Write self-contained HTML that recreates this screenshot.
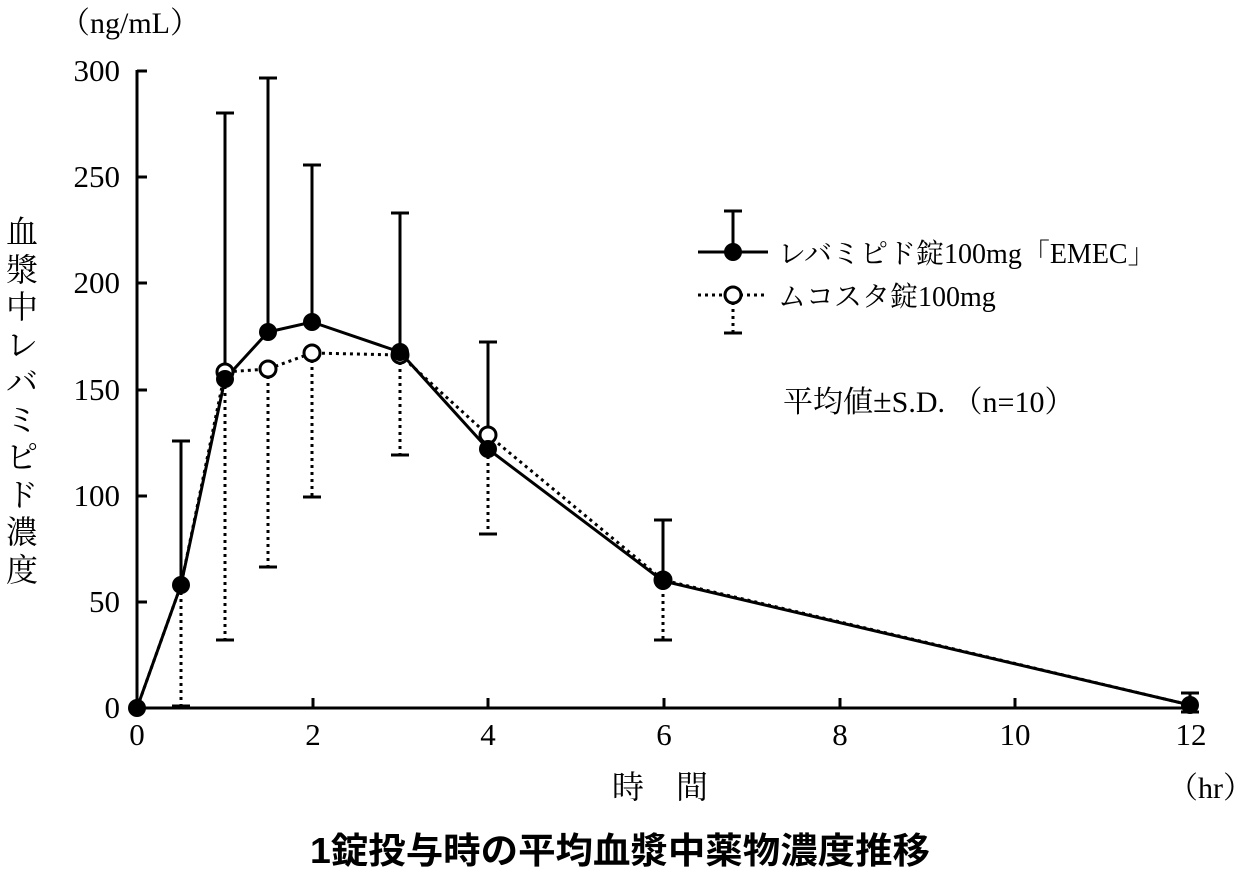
<!DOCTYPE html><html><head><meta charset="utf-8"><style>body{margin:0;background:#fff}svg{display:block}text{font-family:"Liberation Serif","Noto Serif CJK SC",serif;fill:#000}</style></head><body>
<svg width="1238" height="873" viewBox="0 0 1238 873">
<g stroke="#000" stroke-width="3" fill="none">
<path d="M137 70V708H1191"/>
<path d="M137 71h10M137 177h10M137 283h10M137 390h10M137 496h10M137 602h10"/>
<path d="M313 708v-10M488 708v-10M664 708v-10M840 708v-10M1015 708v-10M1191 708v-10"/>
</g>
<g font-size="31" text-anchor="end">
<text x="120" y="81">300</text><text x="120" y="187">250</text><text x="120" y="293">200</text><text x="120" y="400">150</text><text x="120" y="506">100</text><text x="120" y="612">50</text><text x="120" y="718">0</text>
</g>
<g font-size="31" text-anchor="middle">
<text x="137" y="745">0</text><text x="313" y="745">2</text><text x="488" y="745">4</text><text x="664" y="745">6</text><text x="840" y="745">8</text><text x="1015" y="745">10</text><text x="1191" y="745">12</text>
</g>
<text x="60" y="33" font-size="30">（ng/mL）</text>
<text x="1168" y="798" font-size="30">（hr）</text>
<text x="612" y="798" font-size="32">時　間</text>
<g font-size="32" text-anchor="middle"><text x="22" y="243">血</text><text x="22" y="281">漿</text><text x="22" y="318">中</text><text x="22" y="356">レ</text><text x="22" y="393">バ</text><text x="22" y="431">ミ</text><text x="22" y="468">ピ</text><text x="22" y="506">ド</text><text x="22" y="543">濃</text><text x="22" y="581">度</text></g>
<text x="620" y="863" font-size="36" font-weight="bold" text-anchor="middle" textLength="620" lengthAdjust="spacingAndGlyphs" style="font-family:'Liberation Sans','Noto Sans CJK JP',sans-serif">1錠投与時の平均血漿中薬物濃度推移</text>
<text x="783" y="412" font-size="30">平均値<tspan font-size="34">±</tspan>S.D. （n=10）</text>
<g stroke="#000" stroke-width="3" stroke-dasharray="3 4" fill="none">
<path d="M181 585V706M225 372V640M268 369V567M312 353V497M400 355V455M488 435V534M663 580V640M1190 705V712"/>
<path d="M137 708L181 585L225 372L268 369L312 353L400 355L488 435L663 580L1190 705"/>
</g>
<g stroke="#000" stroke-width="3"><path d="M172 706h18M216 640h18M259 567h18M303 497h18M391 455h18M479 534h18M654 640h18M1181 712h18"/></g>
<g stroke="#000" stroke-width="3" fill="none">
<path d="M181 585V441M225 379V113M268 332V78M312 322V165M400 352V213M488 449V342M663 581V520M1190 705V693"/>
<path d="M172 441h18M216 113h18M259 78h18M303 165h18M391 213h18M479 342h18M654 520h18M1181 693h18"/>
<path d="M137 708L181 585L225 379L268 332L312 322L400 352L488 449L663 581L1190 705"/>
</g>
<g fill="#fff" stroke="#000" stroke-width="3">
<circle cx="225" cy="372" r="8"/><circle cx="268" cy="369" r="8"/><circle cx="312" cy="353" r="8"/><circle cx="400" cy="355" r="8"/><circle cx="488" cy="435" r="8"/><circle cx="663" cy="580" r="8"/>
</g>
<g fill="#000">
<circle cx="137" cy="708" r="9"/><circle cx="181" cy="585" r="9"/><circle cx="225" cy="379" r="9"/><circle cx="268" cy="332" r="9"/><circle cx="312" cy="322" r="9"/><circle cx="400" cy="352" r="9"/><circle cx="488" cy="449" r="9"/><circle cx="663" cy="581" r="9"/><circle cx="1190" cy="705" r="9"/>
</g>
<g stroke="#000" stroke-width="3" fill="none">
<path d="M733 252V211M724 211h18M698 252h70"/>
<path d="M698 295h70M733 295V332" stroke-dasharray="3 4"/>
<path d="M724 333h18"/>
</g>
<circle cx="733" cy="252" r="9" fill="#000"/>
<circle cx="733" cy="295" r="8" fill="#fff" stroke="#000" stroke-width="3"/>
<text x="778" y="263" font-size="28">レバミピド錠100mg「EMEC」</text>
<text x="778" y="306" font-size="28">ムコスタ錠100mg</text>
</svg></body></html>
